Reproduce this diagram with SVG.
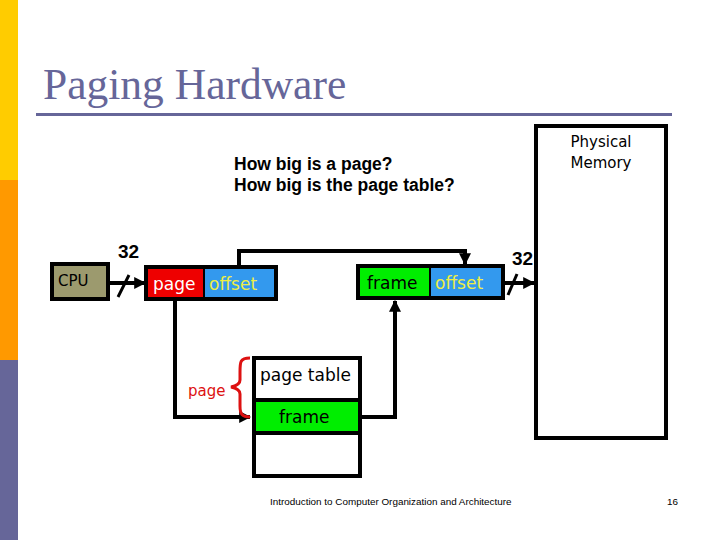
<svg xmlns="http://www.w3.org/2000/svg" width="720" height="540" viewBox="0 0 720 540">
<defs>
<style>
.comic{font-family:"DejaVu Sans","Noto Sans",sans-serif;}
.box{stroke:#000;stroke-width:4;}
.wire{fill:none;stroke:#000;stroke-width:4;}
.lbl32{font-family:"Liberation Sans",Arial,sans-serif;font-weight:bold;font-size:19px;fill:#000;}
</style>
<marker id="ah" viewBox="0 0 10 10" refX="9" refY="5" markerWidth="3" markerHeight="3" orient="auto" markerUnits="strokeWidth">
<path d="M0,0 L10,5 L0,10 z" fill="#000"/>
</marker>
</defs>
<rect width="720" height="540" fill="#fff"/>
<g id="sidebar">
<rect x="0" y="0" width="18" height="180" fill="#FFCC00"/>
<rect x="0" y="180" width="18" height="180" fill="#FF9900"/>
<rect x="0" y="360" width="18" height="180" fill="#666699"/>
</g>
<g id="title">
<text x="43" y="99" font-family="'Liberation Serif','Times New Roman',serif" font-size="43.5" fill="#666699">Paging Hardware</text>
<rect x="36" y="113" width="636" height="3" fill="#666699"/>
</g>
<g id="questions">
<text x="234" y="170" font-family="'Liberation Sans',Arial,sans-serif" font-weight="bold" font-size="17.5" fill="#000">How big is a page?</text>
<text x="234" y="191" font-family="'Liberation Sans',Arial,sans-serif" font-weight="bold" font-size="17.5" fill="#000">How big is the page table?</text>
</g>
<g id="connectors">
<line class="wire" x1="110" y1="283" x2="145" y2="283" marker-end="url(#ah)"/>
<line x1="118" y1="297" x2="129" y2="275" stroke="#000" stroke-width="3"/>
<polyline class="wire" points="239,266 239,251 465,251 465,264" marker-end="url(#ah)"/>
<line class="wire" x1="505" y1="283" x2="534" y2="283" marker-end="url(#ah)"/>
<line x1="508" y1="295" x2="517" y2="274" stroke="#000" stroke-width="3"/>
<polyline class="wire" points="175,300 175,417 250,417" marker-end="url(#ah)"/>
<polyline class="wire" points="362,417 395,417 395,301" marker-end="url(#ah)"/>
</g>
<g id="labels32">
<text class="lbl32" x="118" y="258">32</text>
<text class="lbl32" x="512" y="265">32</text>
</g>
<g id="cpu">
<rect class="box" x="52" y="264" width="56" height="35" fill="#9C9A6E"/>
<text class="comic" x="58" y="286" font-size="15" fill="#000">CPU</text>
</g>
<g id="logical-address">
<rect x="146" y="267" width="58" height="32" fill="#EE0000"/>
<rect x="204" y="267" width="72" height="32" fill="#3399EE"/>
<rect class="box" x="146" y="267" width="130" height="32" fill="none"/>
<line x1="204" y1="267" x2="204" y2="299" stroke="#000" stroke-width="2"/>
<text class="comic" x="153" y="290" font-size="17" fill="#fff">page</text>
<text class="comic" x="209" y="290" font-size="17" fill="#EEEE44">offset</text>
</g>
<g id="physical-address">
<rect x="358" y="266" width="72" height="32" fill="#00EE00"/>
<rect x="430" y="266" width="73" height="32" fill="#3399EE"/>
<rect class="box" x="358" y="266" width="145" height="32" fill="none"/>
<line x1="430" y1="266" x2="430" y2="298" stroke="#000" stroke-width="2"/>
<text class="comic" x="367" y="289" font-size="17" fill="#000">frame</text>
<text class="comic" x="435" y="289" font-size="17" fill="#EEEE44">offset</text>
</g>
<g id="page-table">
<rect x="254" y="400" width="106" height="33" fill="#00EE00"/>
<rect class="box" x="254" y="358" width="106" height="118" fill="none"/>
<line x1="254" y1="400" x2="360" y2="400" stroke="#000" stroke-width="4"/>
<line x1="254" y1="433" x2="360" y2="433" stroke="#000" stroke-width="4"/>
<text class="comic" x="260" y="381" font-size="17" fill="#000">page table</text>
<text class="comic" x="279" y="423" font-size="17" fill="#000">frame</text>
</g>
<g id="page-brace">
<path d="M250,358 C240,358 240,362 240,372 L240,380 C240,384 236,386 231,387 C236,388 240,390 240,394 L240,406 C240,414 242,417 250,417" fill="none" stroke="#DD1111" stroke-width="3"/>
<text class="comic" x="188" y="396" font-size="15" fill="#DD1111">page</text>
</g>
<g id="physical-memory">
<rect class="box" x="536" y="126" width="130" height="312" fill="#fff"/>
<text class="comic" x="601" y="147" font-size="15" fill="#000" text-anchor="middle">Physical</text>
<text class="comic" x="601" y="168" font-size="15" fill="#000" text-anchor="middle">Memory</text>
</g>
<g id="footer">
<text x="270" y="505" font-family="'Liberation Sans',Arial,sans-serif" font-size="9.9" fill="#000">Introduction to Computer Organization and Architecture</text>
<text x="667" y="505" font-family="'Liberation Sans',Arial,sans-serif" font-size="9.9" fill="#000">16</text>
</g>
</svg>
